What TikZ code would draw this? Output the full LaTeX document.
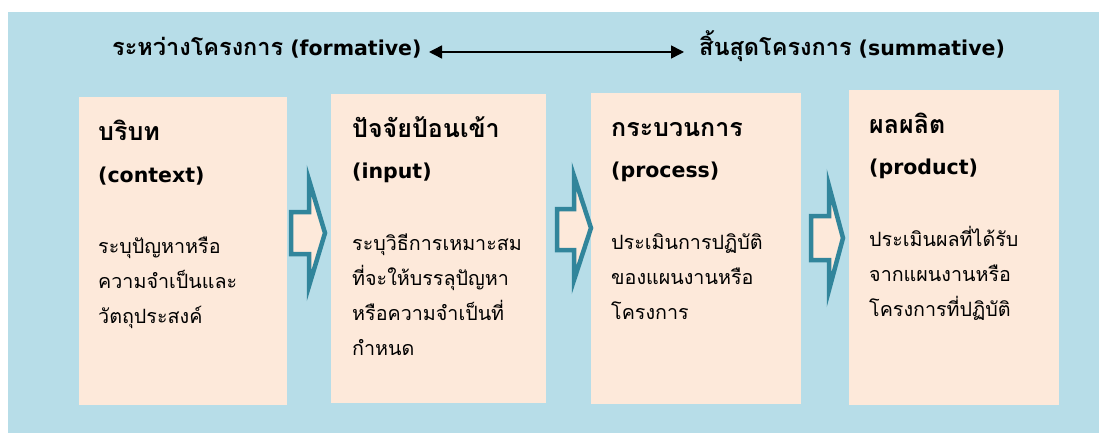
\documentclass[tikz,border=0pt]{standalone}
\usepackage{fontspec}
\setmainfont[Script=Thai]{Loma}
\newfontfamily\latfont{DejaVu Sans}
\usetikzlibrary{arrows.meta}
\definecolor{bgblue}{RGB}{183,221,232}
\definecolor{peach}{RGB}{253,233,218}
\definecolor{arrteal}{RGB}{49,133,155}
\newcommand{\thttl}{\bfseries\fontsize{25}{25}\selectfont}
\newcommand{\thtop}{\bfseries\fontsize{23.5}{23.5}\selectfont}
\newcommand{\latttl}{\latfont\bfseries\fontsize{20.5}{20.5}\selectfont}
\tikzset{
  box/.style={fill=peach, draw=none, inner sep=0pt},
  ttl/.style={font=\thttl, anchor=base west, inner sep=0pt},
  lttl/.style={font=\latttl, anchor=base west, inner sep=0pt},
  bod/.style={font=\fontsize{19.7}{19.7}\selectfont, anchor=base west, inner sep=0pt},
  toplbl/.style={anchor=base west, inner sep=0pt},
  blockarrow/.style={draw=arrteal, fill=peach, line width=4.5pt, line join=miter, miter limit=10},
  dbl/.style={{Triangle[length=13pt,width=13pt]}-{Triangle[length=13pt,width=13pt]}, line width=1.5pt, black}
}
\begin{document}
\begin{tikzpicture}[x=1pt,y=-1pt]
\useasboundingbox (0,0) rectangle (1099,433);
\fill[white] (0,0) rectangle (1099,433);
\fill[bgblue] (8,12) rectangle (1099,433);

% top labels
\node[toplbl] (fl) at (112,56) {{\thtop ระหว่างโครงการ}\hspace{7pt}{\latttl (formative)}};
\node[toplbl] (sl) at (699,56) {{\thtop สิ้นสุดโครงการ}\hspace{7pt}{\latttl (summative)}};
\coordinate (al) at (429,52);
\coordinate (ar) at (684,52);
\draw[dbl] (al) -- (ar);

% boxes
\node[box, minimum width=208pt, minimum height=308pt] (b1) at (183,251) {};
\node[box, minimum width=215pt, minimum height=309pt] (b2) at (438.5,248.5) {};
\node[box, minimum width=210pt, minimum height=311pt] (b3) at (696,248.5) {};
\node[box, minimum width=210pt, minimum height=315pt] (b4) at (954,247.5) {};

% block arrows
\draw[blockarrow] (291,212) -- (309,212) -- (309,180) -- (325,233) -- (309,286) -- (309,254) -- (291,254) -- cycle;
\draw[blockarrow] (557,209) -- (574,209) -- (574,176) -- (591,228) -- (574,280) -- (574,250) -- (557,250) -- cycle;
\draw[blockarrow] (811,216) -- (829,216) -- (829,186) -- (843,238) -- (829,290) -- (829,260) -- (811,260) -- cycle;

% box 1 texts
\node[ttl] (t1a) at (98,140) {บริบท};
\node[lttl] (t1b) at (98,182) {(context)};
\node[bod] (d1a) at (98,253) {ระบุปัญหาหรือ};
\node[bod] (d1b) at (98,288) {ความจำเป็นและ};
\node[bod] (d1c) at (98,323) {วัตถุประสงค์};

% box 2 texts
\node[ttl] (t2a) at (352,137) {ปัจจัยป้อนเข้า};
\node[lttl] (t2b) at (352,178) {(input)};
\node[bod] (d2a) at (352,250) {ระบุวิธีการเหมาะสม};
\node[bod] (d2b) at (352,285) {ที่จะให้บรรลุปัญหา};
\node[bod] (d2c) at (352,320) {หรือความจำเป็นที่};
\node[bod] (d2d) at (352,355) {กำหนด};

% box 3 texts
\node[ttl] (t3a) at (611,136) {กระบวนการ};
\node[lttl] (t3b) at (611,177) {(process)};
\node[bod] (d3a) at (611,249) {ประเมินการปฏิบัติ};
\node[bod] (d3b) at (611,284) {ของแผนงานหรือ};
\node[bod] (d3c) at (611,319) {โครงการ};

% box 4 texts
\node[ttl] (t4a) at (869,133) {ผลผลิต};
\node[lttl] (t4b) at (869,174) {(product)};
\node[bod] (d4a) at (869,246) {ประเมินผลที่ได้รับ};
\node[bod] (d4b) at (869,281) {จากแผนงานหรือ};
\node[bod] (d4c) at (869,316) {โครงการที่ปฏิบัติ};
\end{tikzpicture}
\end{document}
